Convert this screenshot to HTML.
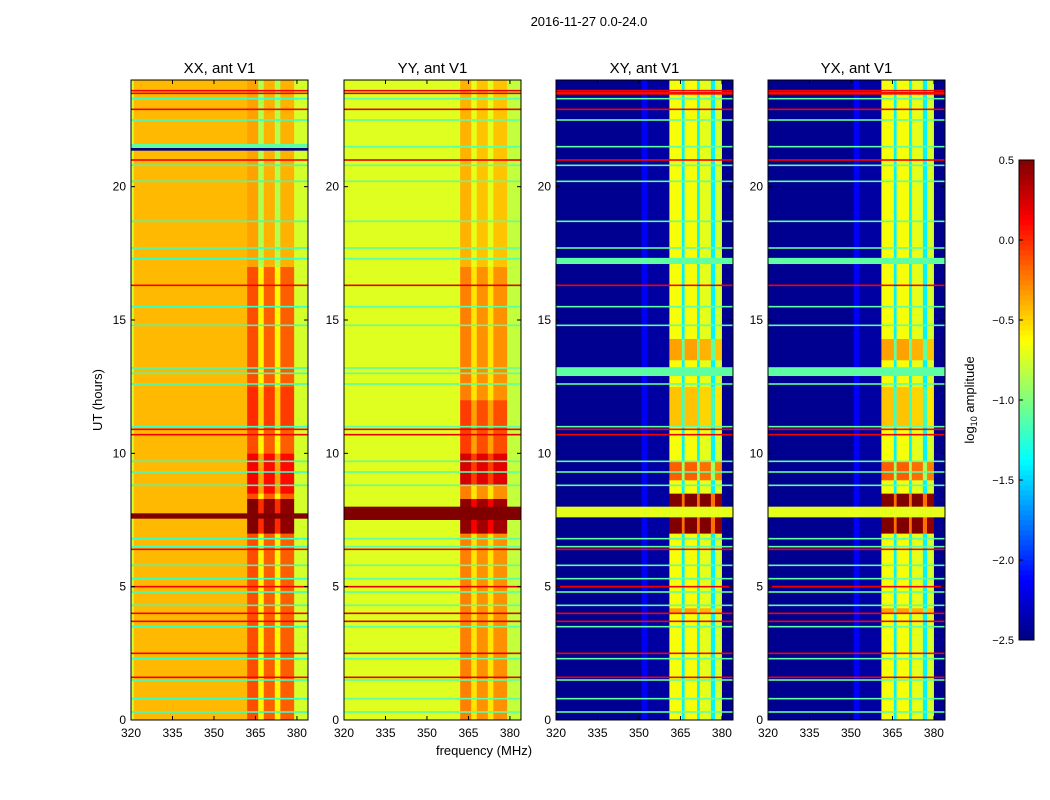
<!DOCTYPE html>
<html><head><meta charset="utf-8"><style>
body{margin:0;background:#fff;}
svg{display:block;font-family:"Liberation Sans",sans-serif;}
</style></head><body>
<svg id="fig" width="1050" height="800" viewBox="0 0 1050 800">
<rect width="1050" height="800" fill="#fff"/>
<text x="589" y="26" font-size="13" text-anchor="middle">2016-11-27 0.0-24.0</text>
<text x="484" y="755" font-size="13" text-anchor="middle">frequency (MHz)</text>
<text transform="translate(102,400) rotate(-90)" font-size="13" text-anchor="middle">UT (hours)</text>
<text transform="translate(974,400) rotate(-90)" font-size="13" text-anchor="middle">log<tspan font-size="9" dy="3">10</tspan><tspan dy="-3"> amplitude</tspan></text>
<g id="panels"></g>
<g id="cbar"></g>
</svg>
<script>
// ---- data ----
const panelTitles = ["XX, ant V1","YY, ant V1","XY, ant V1","YX, ant V1"];
const xTicks = [320,335,350,365,380];
const yTicks = [0,5,10,15,20];
const cbarTicks = [0.5,0.0,-0.5,-1.0,-1.5,-2.0,-2.5];
// frequency segments per panel: [startMHz,endMHz,log10 amplitude]
const freqSegXX = [[320,321,-0.75],[321,362,-0.42],[362,366,-0.1],[366,368,-0.6],[368,372,-0.15],[372,374,-0.6],[374,379,-0.15],[379,384,-0.75]];
const freqSegYY = [[320,362,-0.72],[362,366,-0.25],[366,368,-0.55],[368,372,-0.3],[372,374,-0.55],[374,379,-0.3],[379,384,-0.8]];
const freqSegXY = [[320,351,-2.45],[351,353,-2.15],[353,361,-2.4],[361,365.5,-0.65],[365.5,366.5,-1.4],[366.5,371,-0.65],[371,372,-1.4],[372,376,-0.7],[376,377.5,-1.4],[377.5,380,-0.75],[380,384,-2.45]];
const freqSegYX = [[320,351,-2.45],[351,353,-2.15],[353,361,-2.4],[361,365.5,-0.65],[365.5,366.5,-1.4],[366.5,371,-0.65],[371,372,-1.4],[372,376,-0.7],[376,377.5,-1.4],[377.5,380,-0.75],[380,384,-2.45]];
// time segments boosting the band region: [startH,endH,delta]
const bandBoostXX = [[7,8.3,0.6],[8.5,10,0.25],[11,12.5,0.1],[17,24,-0.25]];
const bandBoostYY = [[7,8.3,0.7],[8.8,10,0.5],[10,12,0.2],[17,24,-0.15]];
const bandBoostXY = [[7,8.5,1.2],[9,9.7,0.5],[11,12.5,0.2],[13.5,14.3,0.3],[4,4.2,0.3]];
const bandBoostYX = [[7,8.5,1.2],[9,9.7,0.5],[11,12.5,0.2],[13.5,14.3,0.3],[4,4.2,0.3]];
// horizontal RFI lines (hours)
const greenTimes = [0.3,0.8,1.5,2.3,3.5,4.3,4.8,5.3,5.8,6.5,6.8,8.8,9.3,9.7,11.0,12.6,13.0,13.2,14.8,15.5,17.3,17.7,18.7,20.2,20.8,21.5,22.5,23.3];
const redTimes = [1.6,2.5,3.7,4.0,5.0,6.4,10.7,10.9,16.3,21.0,22.9,23.5,23.6];
const lineVals = [[-1.2,0.15],[-1.1,0.2],[-1.1,0.15],[-1.1,0.15]]; // [green,red] per panel
// wide full-width rows: [startH,endH,value] per panel
const wideRowsXX = [[7.55,7.75,0.5],[21.45,21.6,-1.1],[21.35,21.45,-2.5]];
const wideRowsYY = [[7.5,8.0,0.5]];
const wideRowsXY = [[7.6,8.0,-0.7],[12.9,13.2,-1.1],[17.1,17.3,-1.1],[23.45,23.55,0.1]];
const wideRowsYX = [[7.6,8.0,-0.7],[12.9,13.2,-1.1],[17.1,17.3,-1.1],[23.45,23.55,0.1]];

const freqSegs=[freqSegXX,freqSegYY,freqSegXY,freqSegYX];
const boosts=[bandBoostXX,bandBoostYY,bandBoostXY,bandBoostYX];
const wides=[wideRowsXX,wideRowsYY,wideRowsXY,wideRowsYX];

// ---- helpers ----
const NS="http://www.w3.org/2000/svg";
const panelLeft=[131,344,556,768], pw=177, topY=80, botY=720;
const fMin=320,fMax=384,tMin=0,tMax=24;
function xs(p,f){return panelLeft[p]+(f-fMin)/(fMax-fMin)*pw;}
function ys(t){return botY-(t-tMin)/(tMax-tMin)*(botY-topY);}
function jet(v){let x=(v+2.5)/3;x=Math.max(0,Math.min(1,x));
 const c=t=>Math.round(255*Math.max(0,Math.min(1,1.5-Math.abs(4*x-t))));
 return `rgb(${c(3)},${c(2)},${c(1)})`;}
function mk(tag,attrs,parent){const e=document.createElementNS(NS,tag);for(const k in attrs)e.setAttribute(k,attrs[k]);parent.appendChild(e);return e;}

const G=document.getElementById('panels');
for(let p=0;p<4;p++){
 const g=mk('g',{},G);
 
 
 let tb=[0,24];boosts[p].forEach(b=>{tb.push(b[0],b[1]);});
 tb=[...new Set(tb)].sort((a,b)=>a-b);
 freqSegs[p].forEach(s=>{
  const inBand=s[0]>=361&&s[1]<=380.5;
  for(let i=0;i<tb.length-1;i++){
   let v=s[2];
   if(inBand){boosts[p].forEach(b=>{if(tb[i]>=b[0]&&tb[i+1]<=b[1])v+=b[2];});}
   const r=mk('rect',{x:xs(p,s[0]),y:ys(tb[i+1]),width:xs(p,s[1])-xs(p,s[0])+0.3,height:ys(tb[i])-ys(tb[i+1])+0.3,fill:jet(v)},g);
   
   
  }
 });
 greenTimes.forEach(t=>{
  const r=mk('rect',{x:panelLeft[p],y:ys(t)-0.8,width:pw,height:1.6,fill:jet(lineVals[p][0])},g);
  
  
 });
 redTimes.forEach(t=>{
  const r=mk('rect',{x:panelLeft[p],y:ys(t)-0.8,width:pw,height:1.6,fill:jet(lineVals[p][1])},g);
  
  
 });
 wides[p].forEach(w=>{
  const r=mk('rect',{x:panelLeft[p],y:ys(w[1]),width:pw,height:ys(w[0])-ys(w[1]),fill:jet(w[2])},g);
  
  
 });
 const fr=mk('rect',{x:panelLeft[p],y:topY,width:pw,height:botY-topY,fill:'none',stroke:'#000','stroke-width':1},g);
 
 
 const tt=mk('text',{x:panelLeft[p]+pw/2,y:73,'font-size':15,'text-anchor':'middle'},g);
 tt.textContent=panelTitles[p];
 
 
 xTicks.forEach(f=>{
  const x=xs(p,f);
  mk('line',{x1:x,x2:x,y1:botY,y2:botY-4,stroke:'#000'},g);
  mk('line',{x1:x,x2:x,y1:topY,y2:topY+4,stroke:'#000'},g);
  const t=mk('text',{x:x,y:botY+17,'font-size':12,'text-anchor':'middle'},g);
  t.textContent=f;
  
  
 });
 yTicks.forEach(h=>{
  const y=ys(h);
  mk('line',{x1:panelLeft[p],x2:panelLeft[p]+4,y1:y,y2:y,stroke:'#000'},g);
  mk('line',{x1:panelLeft[p]+pw,x2:panelLeft[p]+pw-4,y1:y,y2:y,stroke:'#000'},g);
  const t=mk('text',{x:panelLeft[p]-5,y:y+4,'font-size':12,'text-anchor':'end'},g);
  t.textContent=h;
  
  
 });
}
// colorbar
const C=document.getElementById('cbar');
const cbT=160,cbB=640,cbX=1019,cbW=15;
for(let i=0;i<96;i++){
 const v=-2.5+3*(i+0.5)/96;
 const y=cbB-(i+1)*(cbB-cbT)/96;
 const r=mk('rect',{x:cbX,y:y,width:cbW,height:(cbB-cbT)/96+0.4,fill:jet(v)},C);
 
 
}
const cf=mk('rect',{x:cbX,y:cbT,width:cbW,height:cbB-cbT,fill:'none',stroke:'#000'},C);


cbarTicks.forEach(v=>{
 const y=cbB-(v+2.5)/3*(cbB-cbT);
 mk('line',{x1:cbX,x2:cbX+4,y1:y,y2:y,stroke:'#000'},C);
 const t=mk('text',{x:1014,y:y+4,'font-size':11,'text-anchor':'end'},C);
 t.textContent=v.toFixed(1).replace('-','\u2212');
 
 
});
</script>
</body></html>
